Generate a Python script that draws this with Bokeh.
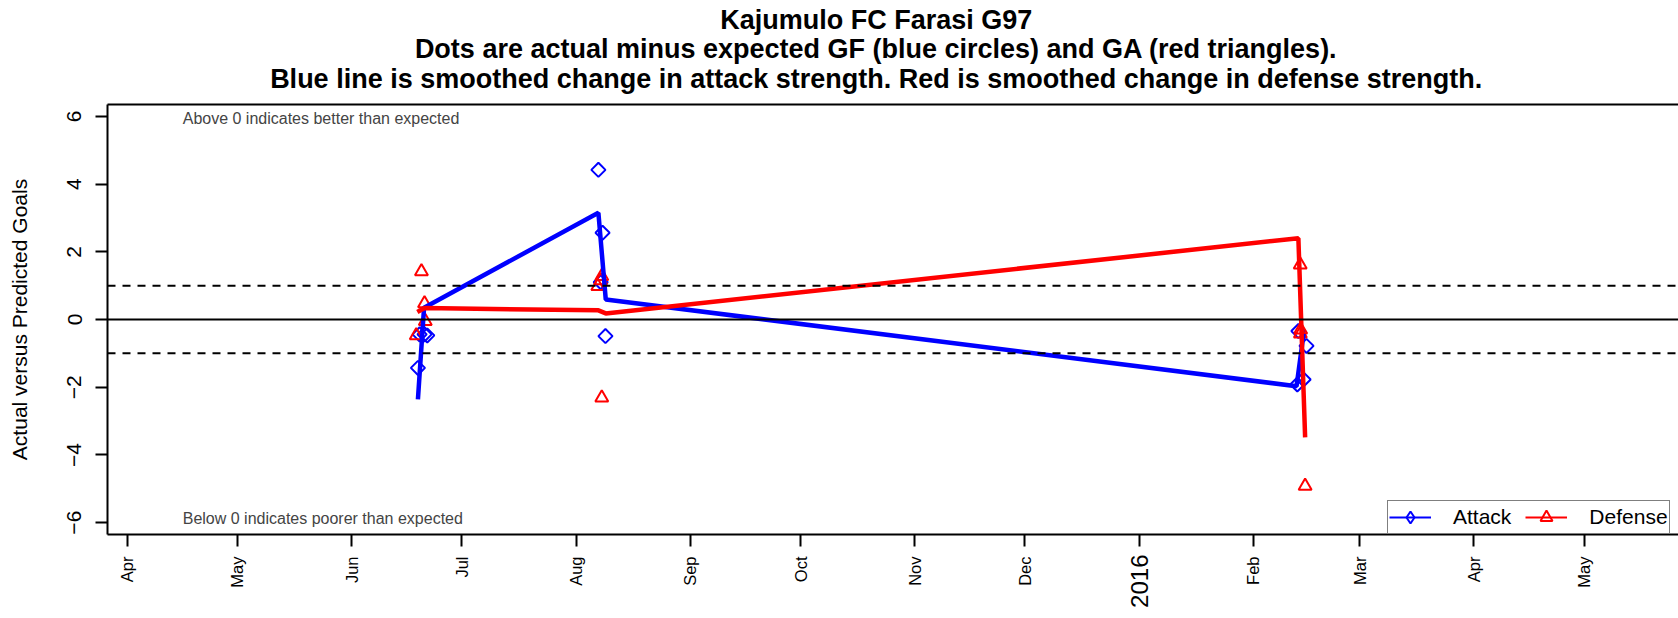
import math
import pandas as pd
from bokeh.plotting import figure
from bokeh.models import (Span, Label, FixedTicker, Legend, LegendItem, Range1d,
                          ColumnDataSource, LinearAxis)
from bokeh.embed import file_html
from bokeh.resources import INLINE

FONT = "Liberation Sans"

title_lines = [
    "Kajumulo FC Farasi G97",
    "Dots are actual minus expected GF (blue circles) and GA (red triangles).",
    "Blue line is smoothed change in attack strength. Red is smoothed change in defense strength.",
]
y_axis_label = "Actual versus Predicted Goals"
note_above = "Above 0 indicates better than expected"
note_below = "Below 0 indicates poorer than expected"

# actual minus expected goals for (blue diamonds)
attack_dates = ["2015-06-19 01:00", "2015-06-19 12:00", "2015-06-20 20:00", "2015-06-21 14:00",
                "2015-08-07 02:00", "2015-08-08 05:00", "2015-08-07 17:00", "2015-08-09 00:00",
                "2016-02-13 07:00", "2016-02-15 12:00", "2016-02-14 17:00", "2016-02-13 00:00"]
attack_values = [-1.43, -0.44, -0.44, -0.47,
                 4.42, 2.56, 1.10, -0.49,
                 -0.34, -0.78, -1.77, -1.92]

# actual minus expected goals against (red triangles)
defense_dates = ["2015-06-20 00:00", "2015-06-20 20:00", "2015-06-21 01:00", "2015-06-18 14:00",
                 "2015-08-08 00:00", "2015-08-06 22:00", "2015-08-08 00:00", "2015-08-07 17:00",
                 "2016-02-13 19:00", "2016-02-13 22:00", "2016-02-13 20:00", "2016-02-15 03:00"]
defense_values = [1.42, 0.47, -0.05, -0.47,
                  1.28, 0.98, -2.31, 1.15,
                  1.62, -0.30, -0.42, -4.92]

# smoothed strength changes
attack_line_dates = ["2015-06-19 01:00", "2015-06-20 17:00", "2015-08-07 02:00", "2015-08-09 02:00",
                     "2016-02-12 19:00", "2016-02-14 17:00"]
attack_line_values = [-2.36, 0.35, 3.15, 0.59, -1.97, -0.42]
defense_line_dates = ["2015-06-18 21:00", "2015-06-20 20:00", "2015-08-07 02:00", "2015-08-09 02:00",
                      "2016-02-13 07:00", "2016-02-15 03:00"]
defense_line_values = [0.22, 0.34, 0.27, 0.18, 2.40, -3.48]

month_tick_dates = ["2015-04-01", "2015-05-01", "2015-06-01", "2015-07-01", "2015-08-01",
                    "2015-09-01", "2015-10-01", "2015-11-01", "2015-12-01", "2016-01-01",
                    "2016-02-01", "2016-03-01", "2016-04-01", "2016-05-01"]
month_tick_labels = ["Apr", "May", "Jun", "Jul", "Aug", "Sep", "Oct", "Nov", "Dec", "2016",
                     "Feb", "Mar", "Apr", "May"]
year_label = "2016"

y_ticks = [-6, -4, -2, 0, 2, 4, 6]
y_tick_labels = ["\u22126", "\u22124", "\u22122", "0", "2", "4", "6"]

x_start, x_end = "2015-03-26 16:30", "2016-05-26 14:00"
y_start, y_end = -6.35, 6.35
title_center = "2015-10-21 14:00"
note_x = "2015-04-16 03:00"
note_y = [5.93, -5.88]


def ms(d):
    return [float(v) for v in (pd.to_datetime(d).astype("int64") // 10**6)]


def ms1(d):
    return float(pd.Timestamp(d).value // 10**6)


p = figure(width=1678, height=618, x_axis_type="datetime", title=None,
           output_backend="svg", toolbar_location=None,
           x_range=Range1d(ms1(x_start), ms1(x_end)),
           y_range=Range1d(y_start, y_end),
           min_border_left=107, min_border_right=0, min_border_top=104, min_border_bottom=84)
p.background_fill_color = "white"
p.border_fill_color = "white"
p.outline_line_color = None
p.grid.visible = False

# keep handles on the two main axes before adding helper axes
xax = p.below[0]
yax = p.left[0]


def label_axis(ticks, labels, size, standoff, style="normal", orientation="horizontal"):
    ax = LinearAxis(ticker=FixedTicker(ticks=ticks),
                    major_label_overrides=dict(zip(ticks, labels)))
    ax.major_label_text_font = FONT
    ax.major_label_text_font_size = size
    ax.major_label_text_font_style = style
    ax.major_label_text_color = "black"
    ax.major_label_standoff = standoff
    ax.major_label_orientation = orientation
    ax.major_tick_out = 0
    ax.major_tick_in = 0
    ax.major_tick_line_color = None
    ax.minor_tick_line_color = None
    ax.axis_line_color = None
    return ax


# title lines drawn as label-only axes above the frame (closest first)
tc = ms1(title_center)
for i, (line, standoff) in enumerate([(title_lines[2], 11), (title_lines[1], -3),
                                      (title_lines[0], -4)]):
    ax = label_axis([tc], [line], "27px", standoff, style="bold")
    if i == 0:
        ax.axis_line_color = "black"
        ax.axis_line_width = 2
    p.add_layout(ax, "above")

# reference lines
p.add_layout(Span(location=0, dimension="width", line_color="black", line_width=2))
for v in (1, -1):
    p.add_layout(Span(location=v, dimension="width", line_color="black", line_width=2,
                      line_dash="8 7"))

a_src = ColumnDataSource(dict(x=ms(attack_dates), y=attack_values))
d_src = ColumnDataSource(dict(x=ms(defense_dates), y=defense_values))
al_src = ColumnDataSource(dict(x=ms(attack_line_dates), y=attack_line_values))
dl_src = ColumnDataSource(dict(x=ms(defense_line_dates), y=defense_line_values))

a_pts = p.scatter("x", "y", source=a_src, marker="square", angle=math.pi / 4, size=10,
                  fill_color=None, line_color="#0000FF", line_width=2)
d_pts = p.scatter("x", "y", source=d_src, marker="triangle", size=13,
                  fill_color=None, line_color="#FF0000", line_width=2)
a_line = p.line("x", "y", source=al_src, line_color="#0000FF", line_width=4.5)
d_line = p.line("x", "y", source=dl_src, line_color="#FF0000", line_width=4.5)

# legend-only glyphs (thin line + marker), no visible data
nan = float("nan")
lg_a_line = p.line(x=[nan], y=[nan], line_color="#0000FF", line_width=2)
lg_a_pt = p.scatter(x=[nan], y=[nan], marker="diamond", line_color="#0000FF", fill_color=None,
                    line_width=2)
lg_d_line = p.line(x=[nan], y=[nan], line_color="#FF0000", line_width=2)
lg_d_pt = p.scatter(x=[nan], y=[nan], marker="triangle", line_color="#FF0000", fill_color=None,
                    line_width=2)

# notes
for txt, yy in zip([note_above, note_below], note_y):
    p.add_layout(Label(x=ms1(note_x), y=yy, text=txt, text_font=FONT,
                       text_font_size="16px", text_baseline="middle", text_align="left"))

# y axis
yax.ticker = FixedTicker(ticks=y_ticks)
yax.major_label_overrides = {t: l for t, l in zip(y_ticks, y_tick_labels)}
yax.major_label_orientation = "vertical"
yax.major_label_text_font = FONT
yax.major_label_text_font_size = "21px"
yax.major_label_text_color = "black"
yax.major_label_standoff = 14
yax.major_tick_out = 12
yax.major_tick_in = 0
yax.minor_tick_line_color = None
yax.axis_line_width = 2
yax.major_tick_line_width = 2
yax.axis_label = y_axis_label
yax.axis_label_text_font = FONT
yax.axis_label_text_font_size = "21px"
yax.axis_label_text_font_style = "normal"
yax.axis_label_text_color = "black"
yax.axis_label_standoff = 34

# x axis (months)
xt = ms(month_tick_dates)
xax.ticker = FixedTicker(ticks=xt)
xax.major_label_overrides = {t: (" " if l == year_label else l) for t, l in zip(xt, month_tick_labels)}
xax.major_label_orientation = math.pi / 2
xax.major_label_text_font = FONT
xax.major_label_text_font_size = "16.5px"
xax.major_label_text_color = "black"
xax.major_label_standoff = 10
xax.major_tick_out = 12
xax.major_tick_in = 0
xax.minor_tick_line_color = None
xax.axis_line_width = 2
xax.major_tick_line_width = 2

# year label: second axis below, pulled back up next to the month labels
yt = xt[month_tick_labels.index(year_label)]
p.add_layout(label_axis([yt], [year_label], "24px", -36, orientation=math.pi / 2), "below")

legend = Legend(items=[LegendItem(label="Attack", renderers=[lg_a_line, lg_a_pt]),
                       LegendItem(label="Defense", renderers=[lg_d_line, lg_d_pt])],
                location=(1280, 0), orientation="horizontal",
                label_text_font=FONT, label_text_font_size="21px", label_text_color="black",
                glyph_width=42, glyph_height=30, label_height=21, label_standoff=22,
                spacing=14, padding=1, margin=0,
                border_line_color="black", border_line_width=1.5,
                background_fill_color="white", background_fill_alpha=1)
p.add_layout(legend)

open("out.html", "w").write(file_html(p, INLINE))
